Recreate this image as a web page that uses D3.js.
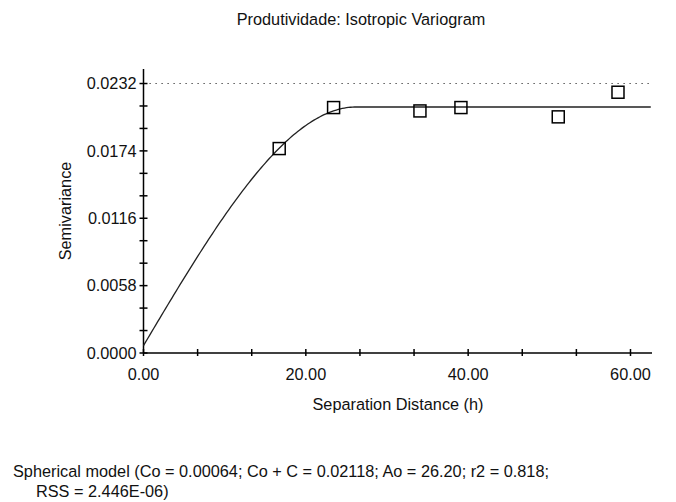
<!DOCTYPE html>
<html>
<head>
<meta charset="utf-8">
<script src="https://cdn.jsdelivr.net/npm/d3@7"></script>
<style>
  html, body { margin: 0; padding: 0; background: #fff; }
  svg text { font-family: Arial, "Liberation Sans", sans-serif; fill: #111; }
</style>
</head>
<body>
<svg id="chart" width="676" height="502"></svg>
<script>
// Experimental semivariogram points
const lagDistance = [16.72, 23.42, 34.06, 39.11, 51.10, 58.46];
const semivariance = [0.01760, 0.02113, 0.02084, 0.02113, 0.02033, 0.02245];

// Fitted spherical model parameters
const nugget = 0.00064;      // Co
const sill = 0.02118;        // Co + C
const range = 26.20;         // Ao
const sampleVariance = 0.0232;

// Axis tick labels
const yTickValues = [0, 0.0058, 0.0116, 0.0174, 0.0232];
const xTickValues = [0, 20, 40, 60];

const titleText = "Produtividade: Isotropic Variogram";
const xLabel = "Separation Distance (h)";
const yLabel = "Semivariance";
const modelLine1 = "Spherical model (Co = 0.00064; Co + C = 0.02118; Ao = 26.20; r2 = 0.818;";
const modelLine2 = "RSS = 2.446E-06)";

const FS = 16.3;
const svg = d3.select("#chart");

const x = d3.scaleLinear().domain([0, 62.65]).range([143.5, 652]);
const y = d3.scaleLinear().domain([0, 0.02445]).range([353, 69]);

// Spherical model curve
function spherical(h) {
  if (h >= range) return sill;
  const r = h / range;
  return nugget + (sill - nugget) * (1.5 * r - 0.5 * r * r * r);
}
const hs = d3.range(0, 62.65 + 0.001, 0.25);

// Dotted reference line at the sample variance
svg.append("line")
  .attr("x1", x(0)).attr("x2", x(62.65))
  .attr("y1", y(sampleVariance)).attr("y2", y(sampleVariance))
  .attr("stroke", "#333").attr("stroke-width", 1.2)
  .attr("stroke-dasharray", "1.2,4.8");

// Axes
const yAxisG = svg.append("g").attr("transform", `translate(${x(0)},0)`);
yAxisG.append("line").attr("x1", 0).attr("x2", 0)
  .attr("y1", y(0)).attr("y2", y(0.02445))
  .attr("stroke", "#000").attr("stroke-width", 1.5);
const yMinor = d3.range(0, 13).map(i => i * 0.0058 / 3);
yAxisG.selectAll("line.tick").data(yMinor).join("line")
  .attr("class", "tick")
  .attr("x1", -4).attr("x2", 4)
  .attr("y1", d => y(d)).attr("y2", d => y(d))
  .attr("stroke", "#000").attr("stroke-width", 1.5);
yAxisG.selectAll("text").data(yTickValues).join("text")
  .attr("x", -7).attr("y", d => y(d))
  .attr("dy", "0.36em")
  .attr("text-anchor", "end")
  .attr("font-size", FS)
  .text(d => d3.format(".4f")(d));

const xAxisG = svg.append("g").attr("transform", `translate(0,${y(0)})`);
xAxisG.append("line").attr("x1", x(0)).attr("x2", x(62.65))
  .attr("y1", 0).attr("y2", 0)
  .attr("stroke", "#000").attr("stroke-width", 1.5);
const xMinor = d3.range(0, 10).map(i => i * 20 / 3);
xAxisG.selectAll("line.tick").data(xMinor).join("line")
  .attr("class", "tick")
  .attr("x1", d => x(d)).attr("x2", d => x(d))
  .attr("y1", -4).attr("y2", 3)
  .attr("stroke", "#000").attr("stroke-width", 1.5);
xAxisG.selectAll("text").data(xTickValues).join("text")
  .attr("x", d => x(d)).attr("y", 27)
  .attr("text-anchor", "middle")
  .attr("font-size", FS)
  .text(d => d3.format(".2f")(d));

// Model curve
svg.append("path")
  .datum(hs)
  .attr("fill", "none")
  .attr("stroke", "#222")
  .attr("stroke-width", 1.3)
  .attr("d", d3.line().x(h => x(h)).y(h => y(spherical(h))));

// Experimental points as open squares
const s = 12;
svg.selectAll("rect.pt").data(lagDistance).join("rect")
  .attr("class", "pt")
  .attr("x", (d) => x(d) - s / 2)
  .attr("y", (d, i) => y(semivariance[i]) - s / 2)
  .attr("width", s).attr("height", s)
  .attr("fill", "none")
  .attr("stroke", "#000").attr("stroke-width", 1.5);

// Titles and labels
svg.append("text").attr("x", 361).attr("y", 25)
  .attr("text-anchor", "middle").attr("font-size", FS).text(titleText);
svg.append("text").attr("x", 398).attr("y", 410)
  .attr("text-anchor", "middle").attr("font-size", FS).text(xLabel);
svg.append("text")
  .attr("transform", `translate(71,211) rotate(-90)`)
  .attr("text-anchor", "middle").attr("font-size", FS).text(yLabel);
svg.append("text").attr("x", 13).attr("y", 477)
  .attr("font-size", FS).text(modelLine1);
svg.append("text").attr("x", 36).attr("y", 497)
  .attr("font-size", FS).text(modelLine2);
</script>
</body>
</html>
